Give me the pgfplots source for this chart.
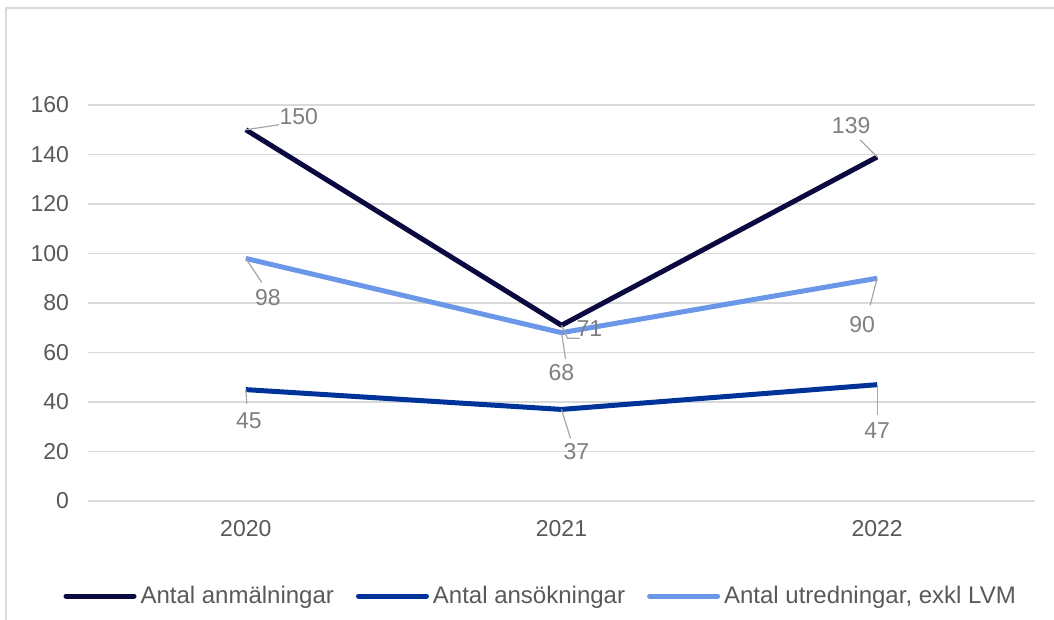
\documentclass[border=0pt]{standalone}
\usepackage{fontspec}
\setmainfont{Liberation Sans}
\usepackage{pgfplots}
\pgfplotsset{compat=1.18}
\definecolor{cA}{HTML}{0A0A40}
\definecolor{cB}{HTML}{003399}
\definecolor{cC}{HTML}{6A97E8}
\definecolor{tickgray}{HTML}{595959}
\definecolor{lblgray}{HTML}{7F7F7F}
\definecolor{leadgray}{HTML}{A6A6A6}
\definecolor{gridgray}{HTML}{D9D9D9}
\begin{document}
\begin{tikzpicture}
\path[use as bounding box] (0,0) rectangle (527pt,310pt);
\draw[gridgray, line width=0.8pt] (3pt,0pt) -- (3pt,306pt) -- (527pt,306pt);
\begin{axis}[
  at={(44pt,59.5pt)}, anchor=south west,
  scale only axis, width=473.5pt, height=198pt,
  xmin=-0.5, xmax=2.5, ymin=0, ymax=160,
  xtick={0,1,2}, xticklabels={2020,2021,2022},
  ytick={0,20,...,160},
  ymajorgrids, major grid style={gridgray, line width=0.8pt},
  axis line style={draw=none},
  tick style={draw=none},
  /pgf/number format/assume math mode=true,
  ticklabel style={font=\fontsize{11.5}{13}\selectfont, text=tickgray},
  xticklabel style={yshift=-6pt},
  yticklabel style={xshift=-6pt},
  legend style={at={(0.478,-0.24)}, anchor=center, draw=none, fill=none,
    legend columns=3, font=\fontsize{12}{14}\selectfont, text=tickgray,
    nodes={inner sep=1pt},
    /tikz/every odd column/.append style={column sep=1pt},
    /tikz/every even column/.append style={column sep=10pt}},
  legend image code/.code={\draw[#1, line cap=round] (0pt,0pt) -- (34pt,0pt);},
]
\addplot[cA, line width=2.5pt, line join=round] coordinates {(0,150) (1,71) (2,139)};
\addlegendentry{Antal anmälningar}
\addplot[cB, line width=2.5pt, line join=round] coordinates {(0,45) (1,37) (2,47)};
\addlegendentry{Antal ansökningar}
\addplot[cC, line width=2.5pt, line join=round] coordinates {(0,98) (1,68) (2,90)};
\addlegendentry{Antal utredningar, exkl LVM}

\tikzset{lbl/.style={text=lblgray, font=\fontsize{11.5}{13}\selectfont, inner sep=0pt}, ld/.style={leadgray, line width=0.6pt}}
% leaders
\draw[ld] (axis cs:0,150) -- ([shift={(16.5pt,2.5pt)}]axis cs:0,150);
\draw[ld] (axis cs:0,98) -- ([shift={(8pt,-12pt)}]axis cs:0,98);
\draw[ld] (axis cs:0,45) -- ([shift={(0.5pt,-7pt)}]axis cs:0,45);
\draw[ld] (axis cs:1,71) -- ([shift={(3pt,-6.5pt)}]axis cs:1,71) -- ([shift={(9pt,-6.5pt)}]axis cs:1,71);
\draw[ld] (axis cs:1,68) -- ([shift={(2pt,-13pt)}]axis cs:1,68);
\draw[ld] (axis cs:1,37) -- ([shift={(4.5pt,-14.5pt)}]axis cs:1,37);
\draw[ld] (axis cs:2,139) -- ([shift={(-8.5pt,8.5pt)}]axis cs:2,139);
\draw[ld] (axis cs:2,90) -- ([shift={(-3.5pt,-13.5pt)}]axis cs:2,90);
\draw[ld] (axis cs:2,47) -- ([shift={(0pt,-15pt)}]axis cs:2,47);
% labels
\node[lbl] at ([shift={(26.5pt,6.5pt)}]axis cs:0,150) {150};
\node[lbl] at ([shift={(11pt,-19.5pt)}]axis cs:0,98) {98};
\node[lbl] at ([shift={(1.5pt,-15.5pt)}]axis cs:0,45) {45};
\node[lbl] at ([shift={(14pt,-1.5pt)}]axis cs:1,71) {71};
\node[lbl] at ([shift={(0pt,-20pt)}]axis cs:1,68) {68};
\node[lbl] at ([shift={(7.5pt,-21pt)}]axis cs:1,37) {37};
\node[lbl] at ([shift={(-13pt,15.5pt)}]axis cs:2,139) {139};
\node[lbl] at ([shift={(-7.5pt,-23pt)}]axis cs:2,90) {90};
\node[lbl] at ([shift={(0pt,-23pt)}]axis cs:2,47) {47};
\end{axis}
\end{tikzpicture}
\end{document}
